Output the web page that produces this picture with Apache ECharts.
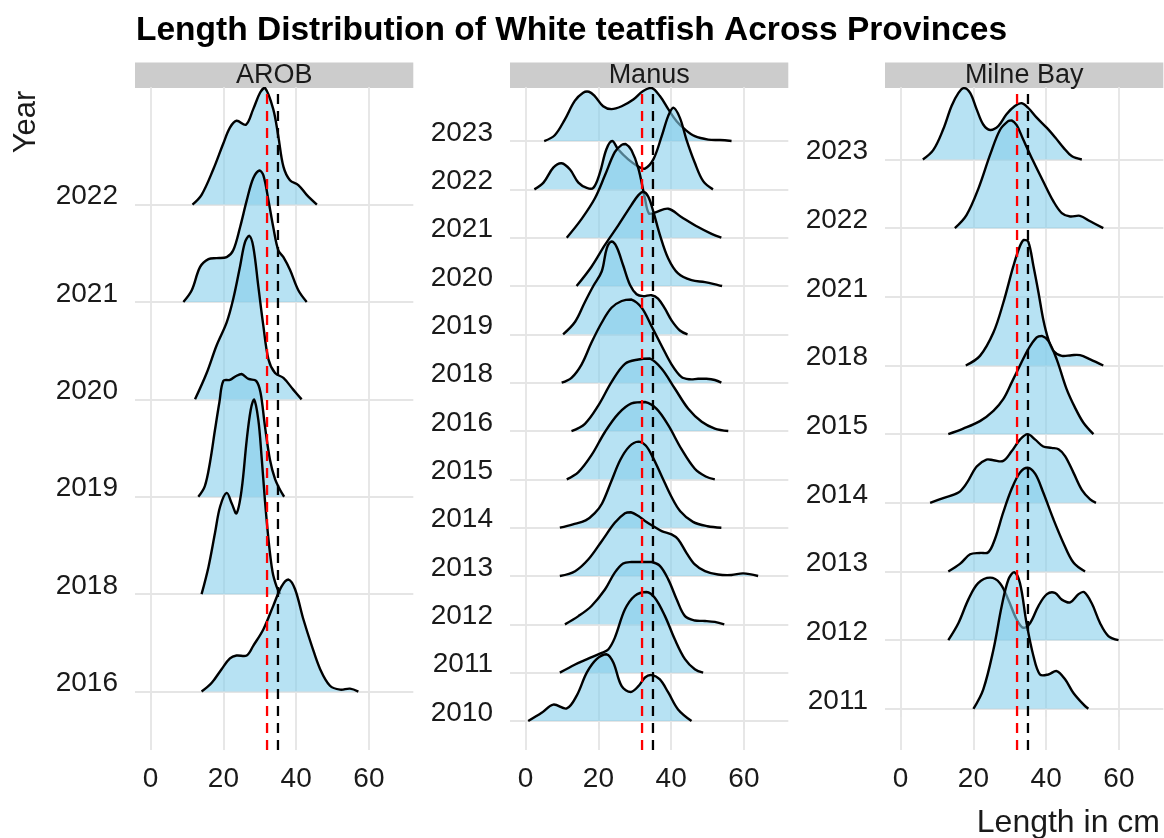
<!DOCTYPE html>
<html>
<head>
<meta charset="utf-8">
<script src="https://cdn.jsdelivr.net/npm/echarts@6/dist/echarts.min.js"></script>
<style>
  html, body { margin: 0; padding: 0; background: #ffffff; }
  #chart { width: 1164px; height: 838px; }
</style>
</head>
<body>
<div id="chart"></div>
<script>
// Axis ticks and reference lengths (cm)
const lengthTicks = [0, 20, 40, 60];
const redLineAt = 32;
const blackLineAt = 35;

// Years present in each province, bottom row first
const arobYears = ['2016', '2018', '2019', '2020', '2021', '2022'];
const manusYears = ['2010', '2011', '2012', '2013', '2014', '2015', '2016', '2018', '2019', '2020', '2021', '2022', '2023'];
const milneYears = ['2011', '2012', '2013', '2014', '2015', '2018', '2021', '2022', '2023'];

// Scaled density curves: [length in cm, ridge height in row units]
const arob2016 = [[14,0],[16.8,0.09],[19.5,0.23],[21.8,0.34],[23.6,0.37],[26.4,0.37],[28.2,0.47],[31,0.64],[33.7,0.88],[36,1.08],[37.9,1.15],[39.7,1.05],[42,0.74],[44.3,0.47],[46.6,0.23],[49.3,0.06],[52.1,0.02],[54.8,0.03],[57.1,0]];
const arob2018 = [[14,0],[15.9,0.28],[17.7,0.63],[19.1,0.9],[20.9,1.04],[22.3,0.93],[23.6,0.83],[25,1.07],[26.4,1.58],[27.5,1.89],[28.4,2.0],[29.6,1.79],[30.5,1.41],[31.4,0.97],[32.4,0.56],[33.5,0.23],[34.6,0.08],[35.6,0]];
const arob2019 = [[13.1,0],[14.9,0.11],[16.3,0.35],[17.7,0.69],[18.9,0.97],[20,1.19],[21.8,1.2],[23.5,1.24],[25,1.26],[26.9,1.21],[29,1.19],[30.2,1.07],[31.4,0.73],[32.8,0.38],[34.2,0.18],[35.6,0.07],[36.7,0]];
const arob2020 = [[12.2,0],[15.4,0.27],[18.1,0.55],[20.9,0.79],[22.7,1.03],[24.6,1.37],[25.9,1.61],[27.1,1.68],[28.2,1.57],[29.6,1.16],[31,0.75],[32.4,0.41],[34.2,0.27],[36.5,0.22],[39.2,0.1],[41.5,0]];
const arob2021 = [[9,0],[11.3,0.12],[13.6,0.36],[15.9,0.44],[18.1,0.45],[20.9,0.46],[22.7,0.53],[24.6,0.77],[26.4,1.04],[28.2,1.27],[29.9,1.35],[31,1.3],[32.4,1.04],[33.7,0.77],[35.1,0.53],[36.5,0.46],[38.3,0.33],[40.6,0.12],[42.9,0]];
const arob2022 = [[11.5,0],[14,0.1],[17.2,0.36],[20,0.63],[21.8,0.79],[23.6,0.86],[26.2,0.82],[28.2,0.98],[30.1,1.15],[31.4,1.2],[33.7,0.98],[35.1,0.7],[36.5,0.39],[38.3,0.25],[40.6,0.2],[42.9,0.1],[45.7,0]];

const manus2010 = [[0.7,0],[4.4,0.17],[7.6,0.34],[11.3,0.26],[14,0.52],[16.8,1.0],[19.5,1.28],[22.3,1.38],[24.1,1.21],[26.4,0.72],[28.9,0.6],[31,0.72],[32.8,0.9],[34.6,0.95],[36.9,0.86],[39.2,0.59],[41.9,0.24],[45.6,0]];
const manus2011 = [[9.4,0],[13.6,0.17],[17.2,0.29],[20.9,0.41],[22.7,0.48],[24.5,0.72],[27.3,1.31],[30,1.59],[33.2,1.67],[35.5,1.55],[38.3,1.17],[41,0.69],[43.8,0.28],[46.5,0.07],[48.8,0]];
const manus2012 = [[10.8,0],[14.5,0.17],[18.1,0.38],[21.8,0.72],[24.5,1.07],[26.8,1.26],[29.1,1.29],[31.9,1.29],[34.6,1.29],[36.9,1.21],[39.2,0.93],[41.5,0.52],[43.8,0.17],[46.5,0.08],[49.3,0.07],[52,0.05],[54.6,0]];
const manus2013 = [[9.4,0],[13.6,0.1],[17.2,0.34],[20.9,0.72],[24.5,1.1],[27.3,1.3],[28.9,1.32],[31,1.24],[32.8,1.14],[35.1,1.03],[37.4,0.93],[40.1,0.86],[41.9,0.76],[44.2,0.48],[46.5,0.24],[49.3,0.1],[52.9,0.03],[56.6,0.02],[59.8,0.055],[63.9,0]];
const manus2014 = [[9.4,0],[13,0.07],[16.5,0.15],[19,0.3],[21,0.5],[23.5,0.95],[26,1.4],[28.5,1.68],[31,1.78],[33,1.7],[35,1.45],[37.5,1.05],[40,0.65],[42.5,0.34],[46,0.12],[50,0.03],[53.8,0]];
const manus2015 = [[11.3,0],[14.5,0.15],[18.1,0.5],[21.8,0.98],[25.5,1.36],[29.1,1.57],[32.8,1.6],[36,1.46],[39.2,1.12],[42.8,0.63],[46.5,0.22],[49.5,0.06],[52,0]];
const manus2016 = [[12.6,0],[16.3,0.15],[20,0.53],[23.6,1.01],[27.3,1.39],[31,1.48],[34.2,1.5],[37.4,1.29],[41,0.88],[44.7,0.46],[48.4,0.19],[52,0.05],[55.7,0]];
const manus2018 = [[9.9,0],[12.6,0.1],[15.4,0.38],[18.1,0.83],[20.9,1.24],[23.6,1.55],[26.4,1.69],[29.1,1.72],[31.9,1.55],[34.6,1.17],[37.4,0.76],[40.1,0.38],[42.8,0.12],[45.1,0.07],[47.4,0.08],[49.7,0.08],[52,0.055],[53.8,0]];
const manus2019 = [[10.3,0],[13.6,0.26],[16.3,0.67],[18.6,1.0],[20.9,1.3],[22.3,1.78],[23.6,1.92],[25,1.81],[26.8,1.43],[28.7,1.02],[30.5,0.83],[32.3,0.79],[34.6,0.81],[36.4,0.74],[38.3,0.53],[40.1,0.29],[42.4,0.08],[44.5,0]];
const manus2020 = [[14,0],[18.1,0.4],[21.8,0.85],[25.5,1.26],[29.1,1.68],[31,1.88],[32.3,1.95],[33.7,1.85],[35.1,1.54],[36.9,1.06],[39.2,0.57],[41.9,0.26],[45.6,0.12],[49.3,0.08],[52.9,0.02],[54,0]];
const manus2021 = [[11.3,0],[15.4,0.39],[19,0.81],[21.8,1.29],[24.5,1.77],[26.4,1.92],[27.5,1.94],[29.1,1.81],[31,1.43],[32.8,0.81],[33.9,0.5],[35.5,0.52],[39.2,0.6],[42.8,0.43],[47.4,0.22],[51.1,0.08],[53.8,0]];
const manus2022 = [[2.4,0],[4.9,0.14],[7.6,0.45],[9.9,0.54],[12.2,0.41],[14.5,0.14],[16.8,0.03],[18.6,0.03],[20.4,0.34],[22.2,0.83],[23.8,1.0],[25.4,0.83],[28.2,0.62],[31,0.47],[32.8,0.43],[35.1,0.62],[37.4,1.1],[39.2,1.52],[40.6,1.69],[42.4,1.48],[44.2,1.03],[46.5,0.55],[48.8,0.17],[51.5,0]];
const manus2023 = [[5.1,0],[8,0.12],[10.8,0.45],[13.5,0.83],[15.8,1.0],[17.4,1.02],[19,0.93],[21.3,0.72],[23.6,0.66],[26.4,0.72],[29.6,0.86],[32.2,1.03],[34.6,1.1],[36.9,0.93],[39.2,0.66],[41.5,0.41],[43.8,0.24],[46.5,0.1],[50.2,0.03],[53.4,0.02],[56.6,0]];

const milne2011 = [[20,0],[22.7,0.28],[25.5,0.86],[27.8,1.5],[29.6,1.88],[31.2,1.99],[32.8,1.83],[34.6,1.25],[36.5,0.77],[38.3,0.5],[40.6,0.5],[42.9,0.55],[45.2,0.43],[47.5,0.23],[50.3,0.06],[51.6,0]];
const milne2012 = [[13.1,0],[15.9,0.25],[18.6,0.59],[21.3,0.83],[24.6,0.91],[27.3,0.83],[29.6,0.59],[31.9,0.3],[33.7,0.18],[35.6,0.25],[37.9,0.5],[40.2,0.67],[42.4,0.69],[44.3,0.59],[46.6,0.55],[48.9,0.67],[50.4,0.7],[52.5,0.54],[54.8,0.25],[57.1,0.06],[59.9,0]];
const milne2013 = [[13.1,0],[16.3,0.11],[19.1,0.25],[21.8,0.27],[24.1,0.28],[25.9,0.47],[28.2,0.86],[30.5,1.2],[32.8,1.44],[34.9,1.51],[37,1.42],[39.2,1.15],[42,0.76],[44.7,0.42],[47.5,0.13],[50.7,0]];
const milne2014 = [[8.1,0],[11.7,0.07],[15.9,0.15],[18.2,0.29],[20.9,0.53],[23.6,0.63],[25.5,0.62],[28.2,0.61],[30.5,0.75],[32.8,0.92],[34.9,1.0],[37,0.92],[39.2,0.82],[41.5,0.8],[43.4,0.78],[45.2,0.68],[47.5,0.44],[49.8,0.19],[52.1,0.05],[53.7,0]];
const milne2015 = [[13.1,0],[17.2,0.08],[21.8,0.19],[25.5,0.34],[28.2,0.51],[30.5,0.75],[32.8,1.0],[35.1,1.24],[37.4,1.41],[38.8,1.43],[40.6,1.36],[42.9,1.09],[45.6,0.66],[47.9,0.39],[50.2,0.17],[53,0]];
const milne2018 = [[17.9,0],[21.8,0.14],[25.5,0.48],[28.2,0.91],[31,1.45],[32.8,1.74],[33.9,1.83],[35.1,1.8],[36.5,1.45],[37.9,1.06],[39.2,0.67],[40.6,0.38],[42,0.21],[44.3,0.14],[47,0.15],[49.3,0.15],[52.1,0.09],[55.7,0]];
const milne2021 = [];
const milne2022 = [[14.9,0],[18.1,0.19],[21.4,0.58],[24.6,1.07],[27.3,1.43],[29.6,1.56],[30.5,1.57],[31.9,1.5],[33.7,1.29],[36.5,0.97],[39.2,0.68],[42,0.39],[44.3,0.22],[46.6,0.17],[49.3,0.18],[52.1,0.1],[55.7,0]];
const milne2023 = [[6.1,0],[9,0.14],[11.7,0.44],[14,0.78],[15.9,0.97],[17.4,1.04],[19.1,0.97],[20.9,0.73],[22.7,0.51],[24.6,0.43],[26.9,0.49],[29.1,0.66],[31.4,0.78],[33.3,0.82],[35.1,0.75],[37.4,0.61],[40.2,0.46],[42.5,0.32],[44.8,0.17],[47,0.05],[49.8,0]];

const FONT = '"Liberation Sans", Arial, Helvetica, sans-serif';
const TEXT_COLOR = '#1a1a1a';
const GRID_COLOR = '#e5e5e5';
const FILL = 'rgba(135, 206, 235, 0.6)';

const panels = [
  { name: 'AROB', years: arobYears, curves: [arob2016, arob2018, arob2019, arob2020, arob2021, arob2022], left: 135, yMax: 6.207 },
  { name: 'Manus', years: manusYears, curves: [manus2010, manus2011, manus2012, manus2013, manus2014, manus2015, manus2016, manus2018, manus2019, manus2020, manus2021, manus2022, manus2023], left: 510, yMax: 13.118 },
  { name: 'Milne Bay', years: milneYears, curves: [milne2011, milne2012, milne2013, milne2014, milne2015, milne2018, milne2021, milne2022, milne2023], left: 885, yMax: 9.056 }
];

const PANEL_TOP = 87;
const PANEL_H = 663;
const PANEL_W = 278.3;
const X_MIN = -4.3, X_MAX = 72.2, Y_MIN = -0.6;

// One ridge: density curve lifted onto its row baseline, filled down to it
function ridgeSeries(gi, row, curve) {
  return {
    type: 'custom', xAxisIndex: gi, yAxisIndex: gi, clip: true, silent: true, z: 2,
    data: curve,
    renderItem: (params, api) => {
      if (params.dataIndex !== 0) return null;
      const pts = curve.map(pt => api.coord([pt[0], row + pt[1]]));
      const xs = pts.map(p => p[0]), ys = pts.map(p => p[1]);
      const bounds = [[Math.min(...xs), Math.min(...ys)], [Math.max(...xs), Math.max(...ys)]];
      return {
        type: 'polyline',
        shape: { points: pts, smooth: 0.35, smoothConstraint: bounds },
        style: { fill: FILL, stroke: '#000000', lineWidth: 2.4, lineJoin: 'round' }
      };
    }
  };
}

const grids = [], xAxes = [], yAxes = [], series = [], graphics = [];

panels.forEach((p, gi) => {
  grids.push({ left: p.left, top: PANEL_TOP, width: PANEL_W, height: PANEL_H, containLabel: false });

  xAxes.push({
    type: 'value', gridIndex: gi, min: X_MIN, max: X_MAX,
    axisLine: { show: false },
    axisTick: { show: true, customValues: lengthTicks, length: 8, lineStyle: { color: GRID_COLOR, width: 1.8 } },
    axisLabel: { customValues: lengthTicks, fontSize: 28, fontFamily: FONT, color: TEXT_COLOR, margin: 15 },
    splitLine: { show: true, lineStyle: { color: GRID_COLOR, width: 1.8 } }
  });

  const rowIdx = p.years.map((_, i) => i);
  yAxes.push({
    type: 'value', gridIndex: gi, min: Y_MIN, max: p.yMax,
    axisLine: { show: false },
    axisTick: { show: true, customValues: rowIdx, length: 8, lineStyle: { color: GRID_COLOR, width: 1.8 } },
    axisLabel: {
      customValues: rowIdx, fontSize: 28, fontFamily: FONT, color: TEXT_COLOR, margin: 17,
      verticalAlign: 'bottom', lineHeight: 16,
      formatter: v => p.years[Math.round(v)]
    },
    splitLine: { show: true, lineStyle: { color: GRID_COLOR, width: 1.8 } }
  });

  // Top rows first so lower ridges overlap the ones behind them
  for (let i = p.years.length - 1; i >= 0; i--) {
    if (p.curves[i].length) series.push(ridgeSeries(gi, i, p.curves[i]));
  }

  // Dashed reference lengths
  [[redLineAt, '#ff0000'], [blackLineAt, '#000000']].forEach(([v, c]) => {
    series.push({
      type: 'line', xAxisIndex: gi, yAxisIndex: gi,
      data: [[v, Y_MIN], [v, p.yMax]],
      showSymbol: false, silent: true,
      lineStyle: { color: c, width: 2.3, type: [10, 7] },
      z: 5
    });
  });

  // Facet strip
  graphics.push({
    type: 'group', left: p.left, top: 62,
    children: [
      { type: 'rect', shape: { x: 0, y: 0, width: PANEL_W, height: 25.5 }, style: { fill: '#cccccc' } },
      { type: 'text', x: PANEL_W / 2, y: 13, style: { text: p.name, font: '27px ' + FONT, fill: TEXT_COLOR, align: 'center', verticalAlign: 'middle' } }
    ]
  });
});

graphics.push({
  type: 'text', x: 26, y: 122, rotation: Math.PI / 2,
  style: { text: 'Year', font: '31px ' + FONT, fill: TEXT_COLOR, align: 'center', verticalAlign: 'middle' }
});
graphics.push({
  type: 'text', x: 1160, y: 823,
  style: { text: 'Length in cm', font: '32px ' + FONT, fill: TEXT_COLOR, align: 'right', verticalAlign: 'middle' }
});

const chart = echarts.init(document.getElementById('chart'), null, { renderer: 'canvas' });
chart.setOption({
  animation: false,
  backgroundColor: '#ffffff',
  title: {
    text: 'Length Distribution of White teatfish Across Provinces',
    left: 131, top: 9,
    textStyle: { fontSize: 33.5, fontWeight: 'bold', fontFamily: FONT, color: '#000000' }
  },
  grid: grids,
  xAxis: xAxes,
  yAxis: yAxes,
  series: series,
  graphic: graphics
});
</script>
</body>
</html>
